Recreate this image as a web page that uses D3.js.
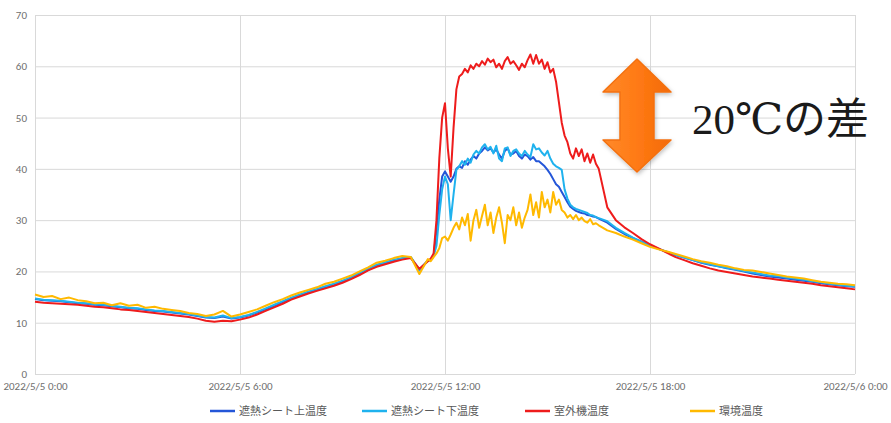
<!DOCTYPE html>
<html><head><meta charset="utf-8">
<script src="https://cdn.jsdelivr.net/npm/d3@7/dist/d3.min.js"></script>
<style>
html,body{margin:0;padding:0;background:#fff;}
svg{display:block;}
</style></head>
<body>
<svg id="chart" width="891" height="423"></svg>
<script>
// ---- data (time in minutes from 2022/5/5 0:00) ----
const minutes = [
  0,15,30,45,60,75,90,105,120,135,150,165,180,195,210,225,240,255,270,285,300,315,330,345,
  360,375,390,405,420,435,450,465,480,495,510,525,540,555,570,585,600,615,630,645,660,675,690,
  695,700,705,710,715,720,725,730,735,740,745,750,755,760,765,770,775,780,785,790,795,800,805,810,
  815,820,825,830,835,840,845,850,855,860,865,870,875,880,885,890,895,900,905,910,915,920,925,930,
  935,940,945,950,955,960,965,970,975,980,985,990,
  1005,1020,1035,1050,1065,1080,1095,1110,1125,1140,1155,1170,1185,1200,1215,1230,1245,1260,1275,1290,
  1305,1320,1335,1350,1365,1380,1395,1410,1425,1440
];
const seriesNames = ["遮熱シート上温度","遮熱シート下温度","室外機温度","環境温度"];
const sheetTop = [
  14.6,14.4,14.3,14.2,14.0,13.8,13.7,13.5,13.4,13.2,13.0,12.8,12.7,12.5,12.3,12.2,12.0,11.8,11.6,11.3,11.0,10.9,11.2,10.8,
  11.0,11.4,12.0,12.6,13.3,14.0,14.7,15.3,15.9,16.4,16.9,17.4,18.0,18.7,19.5,20.3,21.1,21.6,22.1,22.5,22.7,20.2,22.1,
  22.2,23.0,28.0,34.0,38.5,39.5,38.5,37.5,38.5,40.0,40.5,40.2,41.5,40.8,41.8,42.5,42.0,43.0,43.5,44.2,43.6,44.0,43.2,43.8,
  42.8,42.0,43.5,44.0,42.8,43.0,43.5,42.5,42.0,42.8,42.5,41.8,42.3,41.5,41.5,41.0,40.5,39.8,39.0,38.0,37.0,36.5,35.5,34.5,
  33.5,32.6,32.2,31.8,31.6,31.4,31.3,31.0,30.9,30.7,30.6,30.3,
  29.5,28.3,27.3,26.5,25.8,25.1,24.4,23.8,23.2,22.7,22.2,21.7,21.3,21.0,20.6,20.3,20.0,19.6,19.3,19.0,
  18.8,18.6,18.4,18.2,18.0,17.7,17.5,17.3,17.1,17.0
];
const sheetBottom = [
  14.7,14.5,14.4,14.3,14.1,13.9,13.8,13.6,13.5,13.3,13.1,12.9,12.8,12.6,12.4,12.3,12.1,11.9,11.7,11.4,11.1,11.0,11.4,10.9,
  11.1,11.5,12.1,12.8,13.5,14.2,14.9,15.5,16.1,16.6,17.1,17.6,18.2,18.9,19.7,20.5,21.3,21.8,22.3,22.6,22.8,20.3,22.2,
  22.3,23.0,25.0,31.0,36.0,38.5,37.0,30.0,35.0,39.8,40.5,41.5,40.8,42.0,41.2,42.8,43.5,43.0,44.2,44.8,43.8,44.3,43.0,44.5,
  42.0,41.5,44.0,44.2,42.5,43.5,43.8,43.0,42.5,43.5,42.8,42.3,44.8,43.8,44.0,43.2,42.6,43.5,42.0,41.0,40.5,40.2,39.8,36.0,
  34.2,33.0,32.5,32.2,32.0,31.8,31.6,31.4,31.0,30.9,30.6,30.4,
  29.8,28.5,27.5,26.6,25.8,25.1,24.4,23.8,23.2,22.7,22.2,21.8,21.4,21.0,20.7,20.4,20.1,19.8,19.5,19.2,
  19.1,18.8,18.6,18.4,18.1,17.9,17.6,17.4,17.2,17.1
];
const outdoorUnit = [
  14.1,13.9,13.8,13.7,13.6,13.5,13.3,13.1,13.0,12.8,12.6,12.5,12.3,12.1,11.9,11.7,11.5,11.3,11.1,10.8,10.4,10.2,10.4,10.3,
  10.6,11.0,11.6,12.3,13.0,13.7,14.5,15.1,15.7,16.2,16.7,17.2,17.8,18.5,19.3,20.2,20.9,21.4,21.9,22.3,22.6,20.5,22.0,
  22.5,23.5,30.0,42.0,50.0,52.8,44.0,38.5,48.0,55.5,58.0,58.5,59.5,58.8,60.2,59.5,60.5,60.0,61.0,60.3,61.5,60.8,61.3,59.8,
  60.5,59.5,61.0,61.8,60.5,61.0,60.2,59.3,60.5,59.8,61.2,62.3,60.5,62.2,60.5,61.3,59.5,60.8,58.8,59.5,57.0,53.0,49.0,46.5,
  45.2,43.0,42.0,44.0,42.5,43.8,41.5,43.0,41.2,42.8,41.0,40.0,
  32.5,30.0,28.6,27.5,26.3,25.3,24.5,23.6,22.8,22.2,21.6,21.1,20.6,20.2,19.9,19.6,19.3,19.0,18.8,18.6,
  18.4,18.2,18.0,17.8,17.6,17.3,17.1,16.9,16.7,16.5
];
const ambient = [
  15.5,15.0,15.2,14.6,14.9,14.4,14.2,13.8,13.9,13.4,13.8,13.3,13.5,12.9,13.1,12.7,12.5,12.3,11.9,11.7,11.3,11.6,12.3,11.2,
  11.6,12.1,12.6,13.3,14.0,14.6,15.3,15.9,16.4,16.9,17.6,18.0,18.6,19.2,20.0,20.8,21.7,22.1,22.6,23.0,22.8,19.5,22.4,
  22.0,22.8,23.5,24.5,26.5,26.8,26.0,27.2,28.5,29.5,28.2,30.5,29.0,31.2,26.0,30.0,32.0,28.5,30.8,33.0,29.0,31.5,27.5,30.5,
  32.5,29.5,25.5,31.0,30.0,32.5,29.0,31.5,28.5,30.5,32.0,35.0,31.0,33.5,30.5,35.5,32.5,34.0,31.5,35.5,33.0,34.0,32.0,31.5,
  30.5,31.0,30.2,31.0,30.0,30.5,29.8,29.5,30.2,29.2,29.4,29.0,
  28.0,27.5,26.8,26.2,25.5,24.8,24.3,23.9,23.4,22.9,22.4,22.0,21.7,21.3,21.0,20.6,20.3,20.2,19.9,19.6,
  19.3,19.0,18.8,18.6,18.3,18.0,17.8,17.6,17.5,17.3
];
const seriesColors = ["#2456d8","#1fb2ee","#ee1c1c","#ffb900"];
const yTicks = [0,10,20,30,40,50,60,70];
const xTickMinutes = [0,360,720,1080,1440];
const xTickLabels = ["2022/5/5 0:00","2022/5/5 6:00","2022/5/5 12:00","2022/5/5 18:00","2022/5/6 0:00"];
const annotationText = "20℃の差";

// ---- chart ----
const svg = d3.select("#chart");
const L = 35, R = 855, T = 15, B = 374;
const x = d3.scaleLinear().domain([0,1440]).range([L,R]);
const y = d3.scaleLinear().domain([0,70]).range([B,T]);

// gridlines
svg.append("g").selectAll("line").data(yTicks).join("line")
  .attr("x1",L).attr("x2",R).attr("y1",d=>y(d)+0.5).attr("y2",d=>y(d)+0.5)
  .attr("stroke","#d9d9d9").attr("stroke-width",1);
svg.append("g").selectAll("line").data(xTickMinutes).join("line")
  .attr("x1",d=>x(d)+0.5).attr("x2",d=>x(d)+0.5).attr("y1",T).attr("y2",B)
  .attr("stroke","#d9d9d9").attr("stroke-width",1);

// y axis labels
const yAxis = d3.axisLeft(y).tickValues(yTicks).tickSize(0).tickPadding(8);
const gy = svg.append("g").attr("transform",`translate(${L},0)`).call(yAxis);
gy.select(".domain").remove();
gy.selectAll("text").attr("fill","#6e6e6e").style("font-family","Calibri, Carlito, 'Open Sans', sans-serif").style("font-size","11px");

// x axis labels
const xAxis = d3.axisBottom(x).tickValues(xTickMinutes).tickFormat((d,i)=>xTickLabels[i]).tickSize(0).tickPadding(8);
const gx = svg.append("g").attr("transform",`translate(0,${B})`).call(xAxis);
gx.select(".domain").remove();
gx.selectAll("text").attr("fill","#6e6e6e").style("font-family","Calibri, Carlito, 'Open Sans', sans-serif").style("font-size","11px");

// lines
const allSeries = [sheetTop, sheetBottom, outdoorUnit, ambient];
const line = d3.line().x((d,i)=>x(minutes[i])).y(d=>y(d)).curve(d3.curveLinear);
svg.append("g").selectAll("path").data(allSeries).join("path")
  .attr("d",d=>line(d)).attr("fill","none")
  .attr("stroke",(d,i)=>seriesColors[i]).attr("stroke-width",2)
  .attr("stroke-linejoin","round");

// legend
const legendX = [210, 362, 525, 690];
const lg = svg.append("g");
seriesNames.forEach((n,i)=>{
  lg.append("line").attr("x1",legendX[i]).attr("x2",legendX[i]+25).attr("y1",411).attr("y2",411)
    .attr("stroke",seriesColors[i]).attr("stroke-width",2.5);
  lg.append("text").attr("x",legendX[i]+29).attr("y",415).text(n)
    .attr("fill","#595959").style("font-family","'Noto Sans CJK JP', sans-serif").style("font-size","11px");
});

// annotation arrow
const defs = svg.append("defs");
const grad = defs.append("linearGradient").attr("id","og").attr("x1",0).attr("y1",0).attr("x2",1).attr("y2",0);
grad.append("stop").attr("offset","0%").attr("stop-color","#ff8a2c");
grad.append("stop").attr("offset","50%").attr("stop-color","#ff7a14");
grad.append("stop").attr("offset","100%").attr("stop-color","#f36a08");
const flt = defs.append("filter").attr("id","sh").attr("x","-20%").attr("y","-20%").attr("width","140%").attr("height","140%");
flt.append("feDropShadow").attr("dx",1).attr("dy",2).attr("stdDeviation",2).attr("flood-color","#000").attr("flood-opacity",0.25);

const cx = 637, topTip = 59, headBase1 = 92, headBase2 = 140, botTip = 172, hw = 34, sw = 17;
const arrowPts = [
  [cx, topTip],[cx+hw, headBase1],[cx+sw, headBase1],[cx+sw, headBase2],[cx+hw, headBase2],
  [cx, botTip],[cx-hw, headBase2],[cx-sw, headBase2],[cx-sw, headBase1],[cx-hw, headBase1]
];
svg.append("path").attr("d", d3.line()(arrowPts)+"Z")
  .attr("fill","url(#og)").attr("stroke","#f37010").attr("stroke-width",1.5).attr("stroke-linejoin","round")
  .attr("filter","url(#sh)");

svg.append("text").attr("x",692).attr("y",134).text(annotationText)
  .attr("fill","#1a1a1a").style("font-family","'Liberation Serif', 'DejaVu Serif', 'Noto Sans CJK JP', serif")
  .style("font-size","43px");
</script>
</body></html>
